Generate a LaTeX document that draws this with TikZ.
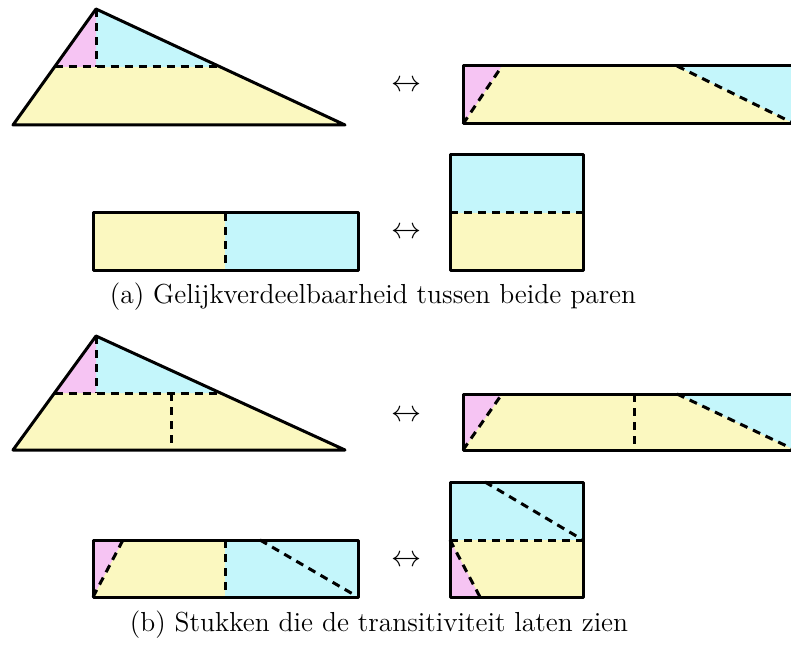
\documentclass[tikz,border=0pt]{standalone}
\usepackage{tikz}
\definecolor{PieceYellow}{HTML}{FBF8C0}
\definecolor{PieceCyan}{HTML}{C4F6FB}
\definecolor{PiecePink}{HTML}{F6C4F3}

\begin{document}
\begin{tikzpicture}[
    x=0.4pt, y=-0.4pt,
    outline/.style={draw=black, line width=1.2pt, line join=round},
    cut/.style={draw=black, line width=1.2pt, dash pattern=on 3.2pt off 2.4pt},
    swap/.style={font=\large, inner sep=0pt},
    caption/.style={font=\fontsize{11}{13}\selectfont, inner sep=0pt}
  ]
  \useasboundingbox (0,0) rectangle (791,652);
  \clip (0,0) rectangle (791,652);

  % (a) triangle
  \coordinate (aA) at (13,125);
  \coordinate (aB) at (345,125);
  \coordinate (aC) at (96,9);
  \coordinate (aL) at (54.5,67);
  \coordinate (aR) at (220.5,67);
  \coordinate (aF) at (96,67);
  \fill[PieceYellow] (aA) -- (aB) -- (aR) -- (aL) -- cycle;
  \fill[PieceCyan] (aF) -- (aR) -- (aC) -- cycle;
  \fill[PiecePink] (aL) -- (aF) -- (aC) -- cycle;
  \draw[cut] (aL) -- (aR);
  \draw[cut] (aC) -- (aF);
  \draw[outline] (aA) -- (aB) -- (aC) -- cycle;

  % (a) long rectangle
  \fill[PieceYellow] (463,66) rectangle (795,124);
  \fill[PiecePink] (463,66) -- (502,66) -- (463,124) -- cycle;
  \fill[PieceCyan] (677,66) -- (795,66) -- (795,124) -- cycle;
  \draw[cut] (463,124) -- (502,66);
  \draw[cut] (677,66) -- (795,124);
  \draw[outline] (463,66) rectangle (795,124);

  % (a) flat rectangle
  \fill[PieceYellow] (93,213) rectangle (225,270);
  \fill[PieceCyan] (225,213) rectangle (358,270);
  \draw[cut] (225,213) -- (225,270);
  \draw[outline] (93,213) rectangle (358,270);

  % (a) square
  \fill[PieceCyan] (450,155) rectangle (583,213);
  \fill[PieceYellow] (450,213) rectangle (583,270);
  \draw[cut] (450,213) -- (583,213);
  \draw[outline] (450,155) rectangle (583,270);

  \node[swap] (swapA1) at (406,86) {$\leftrightarrow$};
  \node[swap] (swapA2) at (406,233) {$\leftrightarrow$};
  \node[caption] (capA) at (373,297) {(a) Gelijkverdeelbaarheid tussen beide paren};

  % (b) triangle
  \coordinate (bA) at (13,450);
  \coordinate (bB) at (345,450);
  \coordinate (bC) at (96,336);
  \coordinate (bL) at (54.5,393);
  \coordinate (bR) at (220.5,393);
  \coordinate (bF) at (96,393);
  \fill[PieceYellow] (bA) -- (bB) -- (bR) -- (bL) -- cycle;
  \fill[PieceCyan] (bF) -- (bR) -- (bC) -- cycle;
  \fill[PiecePink] (bL) -- (bF) -- (bC) -- cycle;
  \draw[cut] (bL) -- (bR);
  \draw[cut] (bC) -- (bF);
  \draw[cut] (171,393) -- (171,450);
  \draw[outline] (bA) -- (bB) -- (bC) -- cycle;

  % (b) long rectangle
  \fill[PieceYellow] (463,394) rectangle (795,450);
  \fill[PiecePink] (463,394) -- (502,394) -- (463,450) -- cycle;
  \fill[PieceCyan] (677,394) -- (795,394) -- (795,450) -- cycle;
  \draw[cut] (463,450) -- (502,394);
  \draw[cut] (634,394) -- (634,450);
  \draw[cut] (677,394) -- (795,450);
  \draw[outline] (463,394) rectangle (795,450);

  % (b) flat rectangle
  \fill[PieceYellow] (93,540) rectangle (225,597);
  \fill[PiecePink] (93,540) -- (123,540) -- (93,597) -- cycle;
  \fill[PieceCyan] (225,540) rectangle (358,597);
  \draw[cut] (93,597) -- (123,540);
  \draw[cut] (225,540) -- (225,597);
  \draw[cut] (260,540) -- (358,597);
  \draw[outline] (93,540) rectangle (358,597);

  % (b) square
  \fill[PieceCyan] (450,482) rectangle (583,540);
  \fill[PieceYellow] (450,540) rectangle (583,597);
  \fill[PiecePink] (450,540) -- (480,597) -- (450,597) -- cycle;
  \draw[cut] (485,482) -- (583,540);
  \draw[cut] (450,540) -- (583,540);
  \draw[cut] (450,540) -- (480,597);
  \draw[outline] (450,482) rectangle (583,597);

  \node[swap] (swapB1) at (406,416) {$\leftrightarrow$};
  \node[swap] (swapB2) at (406,561) {$\leftrightarrow$};
  \node[caption] (capB) at (379,625) {(b) Stukken die de transitiviteit laten zien};
\end{tikzpicture}
\end{document}
